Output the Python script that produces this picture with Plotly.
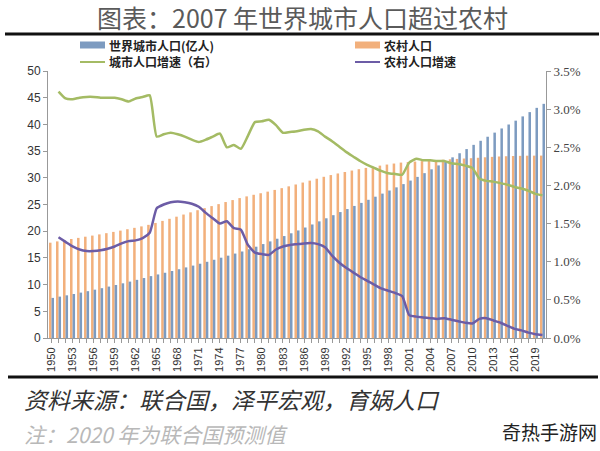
import plotly.graph_objects as go

years = list(range(1950, 2021))

urban_pop = [7.51, 7.75, 7.99, 8.24, 8.50, 8.77, 9.05, 9.33, 9.63, 9.93,
             10.24, 10.56, 10.89, 11.23, 11.59, 11.90, 12.22, 12.55, 12.88, 13.22,
             13.56, 13.91, 14.27, 14.65, 15.04, 15.42, 15.81, 16.20, 16.63, 17.10,
             17.59, 18.09, 18.59, 19.09, 19.61, 20.14, 20.69, 21.26, 21.84, 22.42,
             23.00, 23.58, 24.15, 24.73, 25.30, 25.88, 26.46, 27.04, 27.62, 28.21,
             28.82, 29.48, 30.17, 30.87, 31.59, 32.32, 33.07, 33.83, 34.60, 35.38,
             36.17, 36.93, 37.69, 38.46, 39.24, 39.98, 40.70, 41.50, 42.30, 43.10,
             43.85]

rural_pop = [17.85, 18.09, 18.32, 18.54, 18.75, 18.97, 19.18, 19.40, 19.63, 19.87,
             20.11, 20.37, 20.63, 20.90, 21.19, 21.55, 21.93, 22.32, 22.72, 23.12,
             23.53, 23.93, 24.32, 24.70, 25.07, 25.46, 25.83, 26.20, 26.52, 26.82,
             27.11, 27.41, 27.73, 28.06, 28.40, 28.75, 29.11, 29.47, 29.83, 30.19,
             30.51, 30.81, 31.09, 31.36, 31.61, 31.85, 32.07, 32.28, 32.48, 32.67,
             32.85, 32.95, 33.04, 33.13, 33.22, 33.30, 33.39, 33.47, 33.54, 33.61,
             33.67, 33.75, 33.84, 33.92, 33.99, 34.04, 34.08, 34.11, 34.14, 34.15,
             34.16]

growth_years = list(range(1951, 2021))

urban_growth = [3.23, 3.14, 3.13, 3.15, 3.16, 3.16, 3.15, 3.15, 3.15, 3.13,
                3.10, 3.14, 3.16, 3.18, 2.64, 2.67, 2.69, 2.67, 2.64, 2.60,
                2.57, 2.60, 2.64, 2.68, 2.50, 2.53, 2.48, 2.65, 2.83, 2.84,
                2.86, 2.79, 2.69, 2.70, 2.71, 2.73, 2.74, 2.71, 2.64, 2.58,
                2.51, 2.44, 2.38, 2.32, 2.27, 2.23, 2.19, 2.16, 2.15, 2.14,
                2.30, 2.35, 2.33, 2.33, 2.32, 2.32, 2.29, 2.28, 2.26, 2.23,
                2.09, 2.06, 2.05, 2.03, 2.01, 1.98, 1.96, 1.93, 1.89, 1.87]

rural_growth = [1.32, 1.26, 1.20, 1.16, 1.14, 1.14, 1.15, 1.17, 1.20, 1.24,
                1.27, 1.28, 1.31, 1.38, 1.70, 1.75, 1.78, 1.79, 1.78, 1.76,
                1.72, 1.64, 1.57, 1.50, 1.53, 1.44, 1.42, 1.22, 1.12, 1.10,
                1.09, 1.16, 1.20, 1.22, 1.23, 1.24, 1.245, 1.23, 1.19, 1.08,
                0.99, 0.92, 0.86, 0.80, 0.75, 0.70, 0.65, 0.62, 0.59, 0.55,
                0.30, 0.28, 0.27, 0.26, 0.25, 0.26, 0.24, 0.22, 0.20, 0.19,
                0.25, 0.26, 0.23, 0.20, 0.16, 0.12, 0.10, 0.07, 0.05, 0.04]

tick_text = [str(y) if (y - 1950) % 3 == 0 else "" for y in years]

C_BLUE = "#7d9bc0"
C_ORANGE = "#f2b07c"
C_GREEN = "#a4bb64"
C_PURPLE = "#6c5ca6"
CJK = "Noto Sans CJK SC"

fig = go.Figure()
fig.add_trace(go.Bar(x=years, y=rural_pop, name="农村人口", marker=dict(color=C_ORANGE, line=dict(width=0)),
                     showlegend=False))
fig.add_trace(go.Bar(x=years, y=urban_pop, name="世界城市人口(亿人)", marker=dict(color=C_BLUE, line=dict(width=0)),
                     showlegend=False))
fig.add_trace(go.Scatter(x=growth_years, y=urban_growth, name="城市人口增速（右）", yaxis="y2", mode="lines",
                         line=dict(color=C_GREEN, width=2.5, shape="spline", smoothing=0.5), showlegend=False))
fig.add_trace(go.Scatter(x=growth_years, y=rural_growth, name="农村人口增速", yaxis="y2", mode="lines",
                         line=dict(color=C_PURPLE, width=2.5, shape="spline", smoothing=0.5), showlegend=False))

L, R, T, B = 48, 546, 71, 338
W, H = 600, 451


def px(x):
    return (x - L) / (R - L)


def py(y):
    return (B - y) / (B - T)


shapes = []
annotations = []

# black rules
shapes.append(dict(type="line", xref="paper", yref="paper", x0=px(5), x1=px(599), y0=py(34), y1=py(34),
                   line=dict(color="#111", width=3)))
shapes.append(dict(type="line", xref="paper", yref="paper", x0=px(8), x1=px(598), y0=py(377), y1=py(377),
                   line=dict(color="#111", width=3)))

# manual legend
leg_items = [
    ("rect", C_BLUE, 80, 45, "世界城市人口(亿人)"),
    ("rect", C_ORANGE, 355, 45, "农村人口"),
    ("line", C_GREEN, 80, 62, "城市人口增速（右）"),
    ("line", C_PURPLE, 355, 62, "农村人口增速"),
]
for kind, col, x0, yc, label in leg_items:
    if kind == "rect":
        shapes.append(dict(type="rect", xref="paper", yref="paper", x0=px(x0), x1=px(x0 + 25),
                           y0=py(yc + 3.5), y1=py(yc - 3.5), fillcolor=col, line=dict(width=0)))
    else:
        shapes.append(dict(type="line", xref="paper", yref="paper", x0=px(x0), x1=px(x0 + 25),
                           y0=py(yc), y1=py(yc), line=dict(color=col, width=2)))
    annotations.append(dict(xref="paper", yref="paper", x=px(x0 + 28), y=py(yc), text="<b>" + label + "</b>",
                            showarrow=False, xanchor="left", yanchor="middle", borderpad=0,
                            font=dict(family=CJK, size=12, color="#222")))

# title
annotations.append(dict(xref="paper", yref="paper", x=px(302), y=py(17), text="图表：2007 年世界城市人口超过农村",
                        showarrow=False, xanchor="center", yanchor="middle",
                        font=dict(family=CJK, size=25, color="#5a5a5a")))
# source & note
annotations.append(dict(xref="paper", yref="paper", x=px(22), y=py(399), text="<i>资料来源：联合国，泽平宏观，育娲人口</i>",
                        showarrow=False, xanchor="left", yanchor="middle",
                        font=dict(family=CJK, size=23, color="#333")))
annotations.append(dict(xref="paper", yref="paper", x=px(22), y=py(434), text="<i>注：2020 年为联合国预测值</i>",
                        showarrow=False, xanchor="left", yanchor="middle",
                        font=dict(family=CJK, size=21, color="#b8b8b8")))
annotations.append(dict(xref="paper", yref="paper", x=px(599), y=py(431), text="奇热手游网",
                        showarrow=False, xanchor="right", yanchor="middle",
                        font=dict(family=CJK, size=19, color="#222")))

fig.update_layout(
    width=W, height=H,
    margin=dict(l=L, r=W - R, t=T, b=H - B, pad=0),
    paper_bgcolor="white", plot_bgcolor="white",
    barmode="group", bargap=0.28, bargroupgap=0.0,
    showlegend=False,
    xaxis=dict(range=[1949.5, 2020.5], tickvals=years, ticktext=tick_text, tickangle=-90,
               ticks="outside", ticklen=4, tickcolor="#999", showline=True, linecolor="#999",
               showgrid=False, zeroline=False,
               tickfont=dict(family="Liberation Sans, Arial", size=11, color="#333")),
    yaxis=dict(range=[0, 50], dtick=5, ticks="outside", ticklen=4, tickcolor="#999",
               showline=True, linecolor="#999", showgrid=False, zeroline=False,
               tickfont=dict(family="Liberation Sans, Arial", size=12, color="#333")),
    yaxis2=dict(range=[0, 3.5], dtick=0.5, overlaying="y", side="right", tickformat=".1f", ticksuffix="%",
                ticks="outside", ticklen=4, tickcolor="#999", showline=True, linecolor="#999",
                showgrid=False, zeroline=False,
                tickfont=dict(family="Liberation Serif, Times New Roman", size=13, color="#444")),
    shapes=shapes,
    annotations=annotations,
)

fig.write_html("out.html", config={"displayModeBar": False},
               post_script="document.body.style.margin='0';document.body.style.padding='0';")
